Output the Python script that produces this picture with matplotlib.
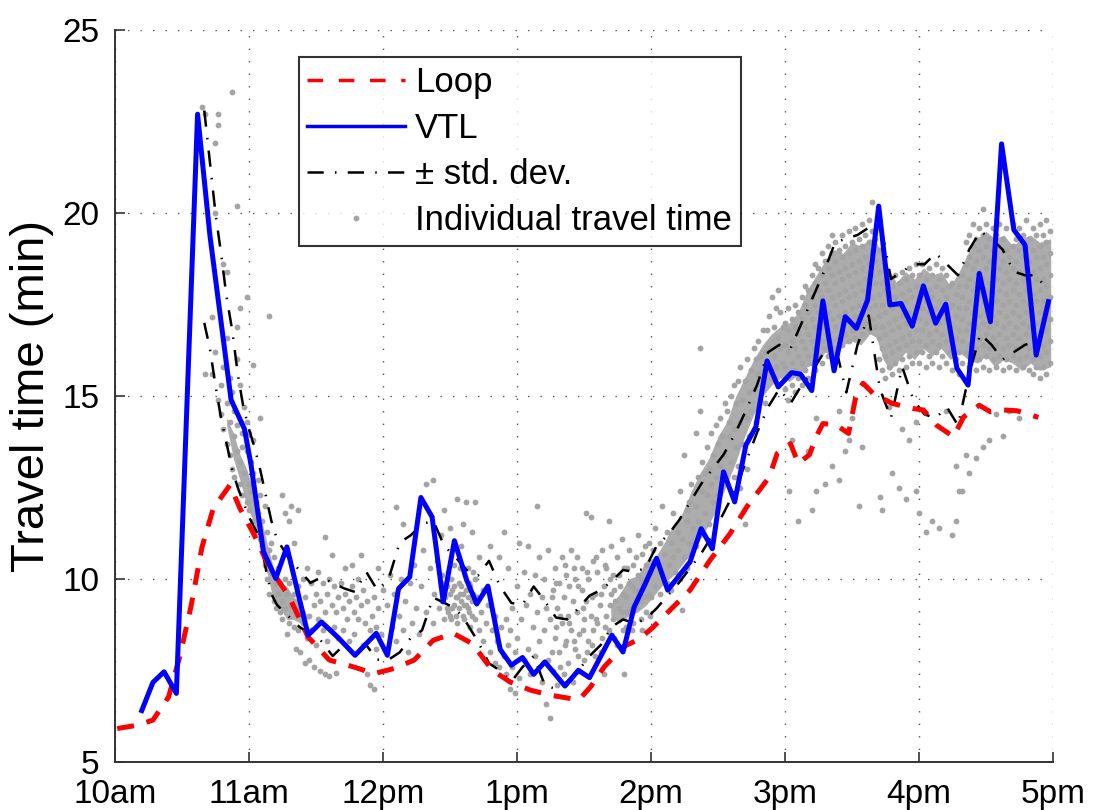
#!/usr/bin/env python3

# Travel time along the corridor: loop detectors vs. VTL estimate, 10am - 5pm

import numpy as np
import matplotlib.pyplot as plt
from matplotlib.lines import Line2D

plt.rcParams['font.family'] = ['Liberation Sans', 'DejaVu Sans']

# --- data (time in minutes after 10am, travel time in minutes) ---
loop_t = [1, 10, 17, 24, 29, 34, 39, 44, 51.5, 56, 62, 69, 78, 86.5, 96, 107, 116, 125,
          134, 142.5, 151.5, 160, 169, 177, 186, 195, 204, 208, 213, 219, 227.5, 235,
          241, 248.5, 257.5, 266.5, 275.5, 283, 293, 296.5, 302.5, 306, 311, 314, 317,
          323, 328.5, 332, 335, 339.5, 348, 357.5, 362, 368, 375.5, 380, 387, 392, 398,
          404, 409, 413.5]
loop_v = [5.92, 6.01, 6.15, 6.78, 7.88, 9.24, 10.88, 11.93, 12.57, 11.93, 11.25, 10.34,
          9.52, 8.42, 7.79, 7.60, 7.42, 7.56, 7.79, 8.33, 8.52, 8.24, 7.51, 7.19, 6.97,
          6.83, 6.74, 6.72, 7.06, 7.60, 8.15, 8.37, 8.69, 9.15, 9.70, 10.52, 11.25,
          11.98, 12.79, 13.43, 13.70, 13.16, 13.40, 13.89, 14.25, 14.21, 13.98, 15.07,
          15.35, 15.07, 14.80, 14.66, 14.62, 14.20, 13.89, 14.43, 14.75, 14.57, 14.62,
          14.60, 14.50, 14.42]

vtl_t = [12, 17, 22, 27.5, 37, 42.5, 52, 58, 61, 66.5, 72, 77, 86.5, 92.5, 100, 107.5,
         117, 122, 127, 132, 137, 142, 147, 152, 157.5, 162, 167, 172.5, 177.5, 182.5,
         187.5, 192.5, 201.5, 207.5, 212.5, 222.5, 227.5, 232.5, 237.5, 242.5, 247.5,
         257.5, 262.5, 267.5, 272.5, 277.5, 282.5, 287, 292, 297, 303, 307, 312, 317,
         322, 327, 332, 337, 342, 347, 352, 357, 362, 367.5, 372, 377, 382, 387, 392,
         397, 402.5, 407.5, 412.5, 418]
vtl_v = [6.41, 7.18, 7.47, 6.88, 22.7, 19.4, 14.9, 14.1, 13.1, 10.75, 10.02, 10.88, 8.47,
         8.83, 8.4, 7.92, 8.52, 7.92, 9.74, 10.06, 12.23, 11.70, 9.38, 11.05, 9.97, 9.32,
         9.81, 8.08, 7.65, 7.86, 7.40, 7.74, 7.08, 7.51, 7.31, 8.47, 8.01, 9.24, 9.88,
         10.57, 9.70, 10.47, 11.38, 10.83, 12.93, 12.11, 13.66, 14.16, 15.96, 15.25,
         15.64, 15.60, 15.15, 17.60, 15.69, 17.17, 16.85, 17.62, 20.19, 17.49, 17.53,
         16.91, 18.01, 16.99, 17.51, 15.76, 15.30, 18.35, 17.03, 21.89, 19.54, 19.13,
         16.12, 17.58]

std_t = [40, 42.5, 45, 47.5, 50, 52.5, 55, 57.5, 60, 62.5, 65, 67.5, 70, 72.5, 77.5,
         82.5, 87.5, 92.5, 97.5, 102.5, 107.5, 112.5, 117.5, 122.5, 127.5, 132.5, 137.5,
         142.5, 147.5, 152.5, 157.5, 162.5, 167.5, 172.5, 177.5, 182.5, 187.5, 192.5,
         197.5, 202.5, 207.5, 212.5, 217.5, 222.5, 227.5, 232.5, 237.5, 242.5, 247.5,
         252.5, 257.5, 262.5, 267.5, 272.5, 277.5, 282.5, 287.5, 292.5, 297.5, 302.5,
         307.5, 312.5, 317.5, 322.5, 327.5, 332.5, 337.5, 342.5, 347.5, 352.5, 357.5,
         362.5, 367.5, 372.5, 377.5, 382.5, 387.5, 392.5, 397.5, 402.5, 407.5, 412.5,
         417.5]
std_hi = [22.8, 21.4, 20.0, 18.9, 17.7, 16.8, 15.6, 14.7, 14.1, 13.6, 13.0, 12.3, 11.6,
          11.1, 10.6, 10.25, 9.9, 10.05, 9.9, 9.75, 9.65, 10.2, 9.7, 10.0, 11.0, 11.2,
          11.5, 11.6, 10.9, 10.6, 10.25, 10.1, 10.5, 9.8, 9.35, 9.3, 9.8, 9.4, 8.95, 8.9,
          9.2, 9.55, 9.7, 9.95, 10.25, 10.2, 10.3, 10.9, 11.2, 11.6, 12.1, 12.6, 13.0,
          13.4, 13.95, 14.6, 15.3, 16.2, 16.4, 16.3, 17.0, 17.7, 18.4, 19.2, 19.3, 19.4,
          19.6, 19.8, 18.2, 18.4, 18.6, 18.6, 18.9, 18.6, 18.3, 19.0, 19.5, 19.3, 19.0,
          18.4, 18.3, 18.3, 17.9]
std_lo = [17.0, 16.3, 15.3, 14.4, 13.7, 13.0, 12.5, 12.1, 11.7, 11.4, 11.1, 10.3, 9.6,
          9.3, 9.0, 8.7, 8.5, 8.3, 7.9, 8.2, 8.0, 8.2, 7.8, 7.8, 8.0, 8.4, 8.6, 9.5, 9.35,
          9.2, 8.8, 8.3, 7.7, 7.5, 7.2, 7.6, 7.9, 7.1, 7.0, 7.2, 7.5, 7.9, 8.2, 8.7, 8.9,
          8.8, 8.9, 9.2, 9.55, 9.9, 10.3, 10.7, 11.2, 11.8, 12.4, 13.2, 14.0, 14.7, 15.2,
          14.8, 15.3, 15.7, 16.2, 16.4, 15.1, 16.4, 17.2, 15.2, 14.4, 15.8, 14.9, 14.5,
          14.4, 14.7, 14.2, 15.6, 16.7, 16.4, 16.0, 16.2, 16.4, 16.5, 16.4]

# where the individual travel times pile up into a solid grey mass
core_11am_t = [50, 53, 56, 59, 62, 65, 68, 71, 74, 77, 80, 83, 86]
core_11am_lo = [14.2, 13.3, 12.7, 12.0, 11.6, 10.9, 10.2, 9.4, 9.2, 8.9, 8.9, 8.8, 8.9]
core_11am_hi = [14.4, 14.0, 13.4, 13.0, 12.4, 11.8, 11.0, 10.3, 9.9, 9.8, 9.5, 9.4, 9.0]
core_pm_t = [222, 226, 230, 234, 238, 242, 246, 250, 254, 258, 262, 266, 270, 274, 278,
             282, 286, 290, 294, 298, 302, 306, 310, 314, 318, 322, 326, 330, 334, 338,
             341, 344, 347, 350, 354, 358, 362, 366, 370, 374, 378, 382, 386, 390, 394,
             398, 402, 406, 410, 414, 419]
core_pm_lo = [9.0, 8.8, 9.0, 9.1, 9.3, 9.6, 9.9, 10.1, 10.4, 10.7, 11.1, 11.5, 12.0, 12.6,
              13.2, 13.9, 14.5, 15.0, 15.3, 15.5, 15.4, 15.6, 15.8, 15.9, 16.2, 16.1, 16.4,
              16.5, 16.4, 16.7, 16.6, 16.0, 15.7, 15.9, 16.2, 16.0, 16.3, 16.1, 16.3, 16.0,
              16.2, 16.0, 15.9, 16.1, 15.8, 16.0, 15.9, 15.7, 15.9, 15.7, 15.8]
core_pm_hi = [9.3, 9.6, 10.0, 10.1, 10.5, 10.6, 11.0, 11.5, 11.8, 12.4, 12.9, 13.3, 13.9,
              14.3, 15.0, 15.5, 16.0, 16.4, 16.7, 16.9, 17.0, 17.3, 17.9, 18.3, 18.7, 19.0,
              18.9, 19.2, 19.1, 19.3, 19.2, 18.8, 18.4, 18.1, 18.4, 18.2, 18.5, 18.3, 18.4,
              18.0, 18.4, 18.9, 19.3, 19.5, 19.3, 19.4, 19.1, 19.3, 19.4, 19.2, 19.3]

# individual travel times, read per departure minute
dots_10am = [(39, [22.9]), (40.5, [22.7, 15.6]), (43.5, [17.15, 15.6]),
             (45, [21.9, 20.0, 16.2]), (46, [22.7, 22.4, 14.9]), (47.5, [15.3, 14.5]),
             (48.5, [18.6, 15.8, 14.1]), (50, [18.4, 16.6, 13.7, 14.8]),
             (51.5, [15.5, 13.4, 14.3]), (52.3, [23.3, 15.1, 13.0]),
             (53.5, [13.9, 14.6, 12.8]), (54.5, [20.2, 16.9, 16.0, 13.5, 14.2]),
             (56, [17.4, 12.6, 15.3, 13.2]), (57, [14.0, 12.3, 13.6]), (58, [14.7, 12.9]),
             (59, [17.7, 12.1, 13.5, 14.3])]
dots_11am = [(60, [12.6, 14.0, 11.9]), (61, [13.2, 12.4]), (62, [15.85, 11.6, 13.8, 12.9]),
             (63, [12.1, 11.3]), (64, [12.7, 11.8]), (65, [14.4, 11.1, 12.3]),
             (66, [11.6, 10.9]), (67, [12.0, 10.4]), (68, [11.3, 10.0]),
             (69, [17.2, 10.8, 9.6]), (70, [11.0, 10.2]), (71, [9.4, 10.6]),
             (72, [9.9, 9.2]), (73, [10.3, 9.6]), (74, [9.1, 9.9]), (75, [12.3, 9.4, 8.9]),
             (76, [11.8, 10.0, 9.2]), (77, [9.6, 8.5]), (78, [11.6, 8.8, 9.9]),
             (79, [12.0, 9.3]), (80, [11.0, 8.7, 9.6]), (81, [9.1, 8.1]),
             (82, [11.9, 8.6, 9.8]), (83, [9.2, 8.0]), (84, [8.8, 10.0]), (85, [9.5, 7.7]),
             (86, [10.3, 8.4]), (87, [9.0, 7.8]), (88, [8.6, 9.9]), (89, [9.3, 7.6]),
             (90, [9.6, 8.2]), (91, [8.9, 10.2]), (92, [9.4, 7.5]), (93, [9.9, 8.6]),
             (94, [11.15, 9.1, 7.4]), (95, [9.6, 8.3]), (96, [7.35, 10.0]),
             (97, [10.65, 9.3]), (98, [9.8, 8.7]), (99, [7.45, 9.1]), (100, [9.5, 8.4]),
             (101, [9.9]), (102, [9.2, 8.6]), (103, [9.6, 10.3]), (104, [8.9]),
             (105, [9.4, 8.3]), (106, [9.8, 10.4]), (107, [9.1, 8.5]), (108, [9.5]),
             (109, [8.9, 10.0]), (110, [9.3, 10.65]), (111, [9.7, 8.2]), (112, [8.8]),
             (113, [7.4, 9.4]), (114, [7.1, 8.6]), (115, [9.0]), (116, [7.0, 9.5]),
             (117, [8.7, 8.1]), (118, [10.3, 9.2]), (119, [8.5])]
dots_12pm = [(120, [9.7]), (121, [8.1]), (122, [9.3]), (123, [10.1]), (124, [8.7]),
             (125, [9.6]), (126, [11.96, 8.3]), (127, [9.0]), (128, [10.0]),
             (129, [11.5, 8.6]), (130, [9.4]), (131, [8.0]), (132, [9.9]), (133, [8.8]),
             (134, [10.4]), (135, [9.2]), (136, [8.5]), (137, [9.8]), (138, [10.8]),
             (139.5, [12.6, 9.1]), (141, [10.3]), (142.5, [12.7, 8.8]), (143, [9.6]),
             (144, [10.5]), (145, [9.2]), (146, [11.2, 9.9]), (146.5, [9.4, 10.1]),
             (147.5, [11.9, 8.9]), (148, [9.5]), (148.5, [9.2, 9.8]), (149, [10.2, 9.1]),
             (150, [9.0, 11.4, 9.6]), (150.5, [8.9, 10.0]), (151, [9.7, 9.2]),
             (152, [10.4, 9.3, 9.8]), (152.5, [9.5, 9.0]), (153, [12.2, 8.8, 9.5]),
             (154, [9.9, 9.2]), (154.5, [9.6, 10.3]), (155, [9.4, 10.9, 9.8]),
             (156, [9.0, 11.5, 9.6]), (156.5, [9.3, 8.9]), (157, [12.1, 9.7, 9.3]),
             (158, [9.2, 10.3, 9.5]), (158.5, [9.9, 9.1]), (159, [8.7, 9.8]),
             (160, [9.4, 11.3, 9.0]), (160.5, [9.6, 10.2]),
             (161, [12.1, 8.9, 10.0]), (162, [9.5]), (163, [8.6, 10.6]), (164, [9.1]),
             (165, [8.3, 9.7]), (166, [8.8]), (167, [9.3]), (168, [8.0, 10.9]),
             (169, [8.6]), (170, [9.0, 7.7]), (171, [8.3]), (172, [10.6, 7.6]),
             (173, [8.7]), (174, [11.3, 7.9]), (175, [7.4, 8.9]), (176, [10.3, 8.2]),
             (177, [7.0, 8.6]), (178, [7.6, 9.2]), (179, [8.0, 6.9])]
dots_1pm = [(180, [8.4, 9.8]), (181, [7.3, 11.0]), (182, [8.9]), (183, [7.8, 10.2]),
            (184, [9.3]), (185, [8.1, 10.9]), (186, [7.4, 9.6]), (187, [8.7]),
            (188, [10.1, 7.9]), (189, [12.0, 9.1]), (190, [8.3, 10.6]), (191, [7.2, 9.5]),
            (192, [8.6, 10.0]), (193, [6.6, 9.2]), (194, [7.8, 10.8]), (195, [6.2, 8.9]),
            (195.5, [8.0, 9.5]), (196, [9.7, 7.5]), (197, [10.3, 8.4]), (197.5, [8.7, 9.9]),
            (198, [9.2, 7.1]), (199, [9.9, 8.0]), (199.5, [7.6, 9.0]),
            (200, [10.6, 8.8]), (201, [7.4, 9.5]), (201.5, [8.2, 10.4]), (202, [8.3, 10.1]),
            (203, [9.0, 7.7]), (203.5, [8.8, 9.8]), (204, [10.8, 8.6]), (205, [9.4, 7.2]),
            (205.5, [8.3, 10.3]), (206, [10.0, 8.1]), (207, [10.6, 9.1]), (207.5, [7.9, 9.8]),
            (208, [8.5, 7.5]), (209, [9.7, 10.3]), (209.5, [8.6, 9.2]), (210, [8.9, 7.8]),
            (211, [11.8, 9.4]), (211.5, [8.0, 10.2]), (212, [8.3, 10.0]), (213, [9.0, 11.7]),
            (213.5, [9.5, 8.2]), (214, [8.6, 10.5]), (215, [9.6, 7.9]), (215.5, [8.9, 10.6]),
            (216, [10.2, 8.8]), (217, [9.3]), (217.5, [8.0, 9.6]), (218, [10.8, 8.4]),
            (219, [9.8, 7.4]), (219.5, [8.7, 10.4]), (220, [10.3, 9.0]), (221, [11.6, 8.6]),
            (221.5, [9.3, 10.0]), (222, [9.6, 10.9]), (223, [8.9, 10.1]), (223.5, [8.4, 9.7]),
            (224, [9.4]), (225, [10.6, 8.2]), (225.5, [9.2, 10.1]), (226, [9.8]),
            (227, [9.1, 11.1]), (227.5, [8.6, 9.6]), (228, [10.3, 7.4]), (229, [9.5, 8.7]),
            (229.5, [9.1, 10.3]), (230, [10.8, 9.9]), (231, [9.2]), (231.5, [9.8, 8.6]),
            (232, [10.4, 8.8]), (233, [9.7]), (233.5, [9.2, 10.6]), (234, [11.2, 10.1]),
            (235, [9.4]), (235.5, [8.9, 10.0]), (236, [10.7, 8.6]), (237, [9.9]),
            (237.5, [9.5, 10.9]), (238, [10.4, 9.1]), (239, [11.0, 9.6]), (239.5, [10.2, 9.0])]
dots_2pm = [(240, [10.2, 9.5]), (241, [10.8]), (242, [9.8, 11.4]), (243, [10.4]),
            (244, [9.6, 11.0]), (245, [10.1, 12.0]), (246, [10.7]), (247, [9.9, 11.3]),
            (248, [10.4]), (249, [11.0, 9.7]), (250, [10.6, 11.8]), (251, [10.2]),
            (252, [11.3, 10.8]), (253, [12.4, 10.0]), (254, [9.15, 11.1]),
            (255, [10.6, 13.4]), (256, [11.6, 10.3, 11.9]), (257, [12.1, 11.0]),
            (258, [10.7, 12.6]), (259, [11.4]), (260, [14.0, 10.9, 12.0]),
            (261, [11.6, 12.8]), (262, [16.3, 14.6, 11.2]), (263, [12.4, 13.2]),
            (264, [11.8, 12.9]), (265, [12.3, 13.6]), (266, [11.5, 13.0]),
            (267, [12.6, 14.0]), (268, [12.1, 13.4]), (269, [14.2, 12.8]),
            (270, [13.7, 12.3]), (271, [13.1, 14.4]), (272, [12.8, 13.9]),
            (273, [13.4, 14.8]), (274, [14.6, 12.6]), (275, [13.9, 14.3]),
            (276, [13.2, 15.0]), (277, [15.3, 14.1, 12.8]), (278, [13.6, 14.8]),
            (279, [15.4, 13.1]), (280, [14.3, 15.8, 12.5]), (281, [14.9, 13.7]),
            (282, [11.5, 15.4]), (283, [14.4, 16.0, 13.0]), (284, [15.1, 13.9]),
            (285, [15.7, 14.6]), (286, [16.3, 15.2]), (287, [14.3, 16.0]),
            (288, [15.6, 16.5]), (289, [14.9, 16.1]), (290, [15.4, 16.8]),
            (291, [16.2, 14.8]), (292, [16.8, 15.7]), (293, [17.2, 16.3]),
            (294, [17.7, 15.5]), (295, [16.9, 16.1]), (296, [17.4, 15.8]),
            (297, [16.6, 17.9]), (298, [16.3, 17.3]), (299, [15.9, 16.9])]
dots_3pm = [(300, [15.2, 15.8, 16.4, 17.0]), (301.5, [14.9, 15.6, 16.2, 16.8, 17.4]),
            (302, [12.4]), (303, [15.3, 15.9, 16.5, 17.1, 13.8]),
            (304.5, [15.1, 15.7, 16.3, 16.9, 17.5]), (306, [15.5, 16.1, 16.7, 17.3, 11.6]),
            (307.5, [15.3, 15.9, 16.5, 17.1, 17.7]), (309, [15.7, 16.3, 16.9, 17.5, 18.0]),
            (310.5, [15.5, 16.1, 16.7, 17.3, 17.9, 13.5]), (312, [15.9, 16.5, 17.1, 17.7, 18.3, 11.9]),
            (313.5, [15.7, 16.3, 16.9, 17.5, 18.1, 18.6]), (314, [14.4, 12.4]),
            (315, [16.1, 16.7, 17.3, 17.9, 18.5]), (316.5, [15.9, 16.5, 17.1, 17.7, 18.3, 18.9]),
            (318, [16.3, 16.9, 17.5, 18.1, 18.7, 12.6]), (319.5, [16.1, 16.7, 17.3, 17.9, 18.5, 19.1]),
            (321, [16.5, 17.1, 17.7, 18.3, 18.9, 19.4, 13.1]),
            (322.5, [16.3, 16.9, 17.5, 18.1, 18.7, 19.2]),
            (324, [16.6, 17.2, 17.8, 18.4, 19.0, 12.7, 14.6]),
            (325.5, [16.4, 17.0, 17.6, 18.2, 18.8, 19.4]),
            (327, [16.7, 17.3, 17.9, 18.5, 19.1, 13.5]),
            (328.5, [16.5, 17.1, 17.7, 18.3, 18.9, 19.5, 13.8]),
            (330, [16.8, 17.4, 18.0, 18.6, 19.2, 14.4]),
            (331.5, [16.6, 17.2, 17.8, 18.4, 19.0, 19.6]), (333, [16.9, 17.5, 18.1, 18.7, 19.3, 12.0]),
            (334.5, [16.7, 17.3, 17.9, 18.5, 19.1, 19.7, 13.6]),
            (336, [17.0, 17.6, 18.2, 18.8, 19.4]), (337.5, [16.8, 17.4, 18.0, 18.6, 19.2, 19.8]),
            (339, [17.1, 17.7, 18.3, 18.9, 19.5, 20.3]),
            (340.5, [16.9, 17.5, 18.1, 18.7, 19.3]), (342.5, [12.25]),
            (342, [16.0, 16.6, 17.2, 17.8, 18.4, 19.0]),
            (343.5, [15.7, 16.3, 16.9, 17.5, 18.1, 11.9]),
            (345, [15.5, 16.1, 16.7, 17.3, 17.9, 18.5]),
            (346.5, [15.8, 16.4, 17.0, 17.6, 18.2, 14.7]),
            (348, [15.6, 16.2, 16.8, 17.4, 18.0, 12.9]),
            (349.5, [15.9, 16.5, 17.1, 17.7, 18.3]),
            (351, [15.7, 16.3, 16.9, 17.5, 18.1, 12.5]),
            (352.5, [16.0, 16.6, 17.2, 17.8, 18.4, 14.1]),
            (354, [15.8, 16.4, 17.0, 17.6, 18.2, 12.2]),
            (355.5, [16.1, 16.7, 17.3, 17.9, 18.5, 13.8]),
            (357, [15.9, 16.5, 17.1, 17.7, 18.3]),
            (358.5, [16.2, 16.8, 17.4, 18.0, 18.6, 14.3, 12.4])]
dots_4pm = [(360, [15.9, 16.5, 17.1, 17.7, 18.3, 11.8]), (361.5, [16.2, 16.8, 17.4, 18.0, 18.6]),
            (363, [15.8, 16.4, 17.0, 17.6, 18.2, 11.3]), (364.5, [16.1, 16.7, 17.3, 17.9, 18.5]),
            (366, [15.9, 16.5, 17.1, 17.7, 18.3, 11.6]), (367.5, [16.2, 16.8, 17.4, 18.0, 18.6]),
            (369, [15.8, 16.4, 17.0, 17.6, 18.2, 11.4]), (370.5, [16.1, 16.7, 17.3, 17.9, 18.5]),
            (372, [15.9, 16.5, 17.1, 17.7, 18.3, 14.6]), (373.5, [16.2, 16.8, 17.4, 18.0]),
            (375, [15.7, 16.3, 16.9, 17.5, 18.1, 11.2]), (376.5, [16.0, 16.6, 17.2, 17.8, 13.1, 11.6]),
            (378, [15.6, 16.2, 16.8, 17.4, 18.0, 12.4]), (379.5, [15.9, 16.5, 17.1, 17.7, 18.3, 12.4]),
            (381, [16.2, 16.8, 17.4, 18.0, 18.6, 19.2, 13.4]),
            (382.5, [15.8, 16.4, 17.0, 17.6, 18.2, 18.8, 19.4, 12.9]),
            (384, [16.1, 16.7, 17.3, 17.9, 18.5, 19.1, 19.7]),
            (385.5, [15.7, 16.3, 16.9, 17.5, 18.1, 18.7, 19.3, 13.3]),
            (387, [16.0, 16.6, 17.2, 17.8, 18.4, 19.0, 19.6]),
            (388.5, [15.8, 16.4, 17.0, 17.6, 18.2, 18.8, 19.4, 20.1, 13.6]),
            (390, [16.1, 16.7, 17.3, 17.9, 18.5, 19.1, 19.7]),
            (391.5, [15.7, 16.3, 16.9, 17.5, 18.1, 18.7, 19.3, 13.8]),
            (393, [16.0, 16.6, 17.2, 17.8, 18.4, 19.0, 19.6]),
            (394.5, [15.8, 16.4, 17.0, 17.6, 18.2, 18.8, 19.4, 14.5]),
            (396, [16.1, 16.7, 17.3, 17.9, 18.5, 19.1, 19.7]),
            (397.5, [15.7, 16.3, 16.9, 17.5, 18.1, 18.7, 19.3, 13.9]),
            (399, [16.0, 16.6, 17.2, 17.8, 18.4, 19.0, 19.6]),
            (400.5, [15.8, 16.4, 17.0, 17.6, 18.2, 18.8, 14.6]),
            (402, [16.1, 16.7, 17.3, 17.9, 18.5, 19.1, 19.7]),
            (403.5, [15.7, 16.3, 16.9, 17.5, 18.1, 18.7, 19.3]),
            (405, [16.0, 16.6, 17.2, 17.8, 18.4, 19.0, 19.6, 14.4]),
            (406.5, [15.8, 16.4, 17.0, 17.6, 18.2, 18.8, 19.4]),
            (408, [16.1, 16.7, 17.3, 17.9, 18.5, 19.1, 19.8]),
            (409.5, [15.7, 16.3, 16.9, 17.5, 18.1, 18.7, 19.3]),
            (411, [15.6, 16.0, 16.6, 17.2, 17.8, 18.4, 19.0, 19.6]),
            (412.5, [15.8, 16.4, 17.0, 17.6, 18.2, 18.8, 19.4]),
            (414, [15.5, 16.1, 16.7, 17.3, 17.9, 18.5, 19.1, 19.7]),
            (415.5, [15.8, 16.4, 17.0, 17.6, 18.2, 18.8, 19.4]),
            (417, [15.6, 16.2, 16.8, 17.4, 18.0, 18.6, 19.2, 19.8]),
            (418.5, [15.9, 16.5, 17.1, 17.7, 18.3, 18.9, 19.5])]

hour_ticks = [10, 11, 12, 13, 14, 15, 16, 17]
hour_labels = ['10am', '11am', '12pm', '1pm', '2pm', '3pm', '4pm', '5pm']

dot_color = '#a4a4a4'
core_color = '#acacac'
std_style = (0, (6.5, 4.5, 0.6, 4.5))


def to_hours(minutes):
    return 10 + np.asarray(minutes, dtype=float) / 60.0


dot_t = []
dot_v = []
for group in [dots_10am, dots_11am, dots_12pm, dots_1pm, dots_2pm, dots_3pm, dots_4pm]:
    for minute, values in group:
        for v in values:
            dot_t.append(minute)
            dot_v.append(v)

fig = plt.figure(figsize=(11, 8.1), dpi=100)
ax = fig.add_axes([0.1045, 0.059, 0.8527, 0.904])

for ct, clo, chi in [(core_11am_t, core_11am_lo, core_11am_hi),
                     (core_pm_t, core_pm_lo, core_pm_hi)]:
    ax.fill_between(to_hours(ct), clo, chi, color=core_color, linewidth=0, zorder=2)
ax.plot(to_hours(dot_t), dot_v, linestyle='none', marker='o', markersize=4.2,
        markerfacecolor=dot_color, markeredgecolor='none', zorder=2)
ax.plot(to_hours(std_t), std_hi, color='k', lw=1.8, linestyle=std_style, zorder=3)
ax.plot(to_hours(std_t), std_lo, color='k', lw=1.8, linestyle=std_style, zorder=3)
ax.plot(to_hours(loop_t), loop_v, color='#ff0000', lw=3.6, linestyle=(0, (3.4, 2.6)), zorder=4)
ax.plot(to_hours(vtl_t), vtl_v, color='#0000ff', lw=3.6, zorder=5)

ax.set_xlim(10, 17)
ax.set_ylim(5, 25)
ax.set_xticks(hour_ticks)
ax.set_xticklabels(hour_labels)
ax.set_yticks([5, 10, 15, 20, 25])
ax.tick_params(direction='in', length=7, width=1.2, labelsize=24, color='#333333',
               top=False, right=False)
ax.tick_params(axis='x', pad=12)
ax.tick_params(axis='y', pad=11)
ax.grid(True, color='#555555', linestyle=(0, (1, 8)), linewidth=1.0)
ax.set_axisbelow(True)
ax.spines['top'].set_visible(False)
ax.spines['right'].set_visible(False)
for side in ['left', 'bottom']:
    ax.spines[side].set_linewidth(1.4)
    ax.spines[side].set_color('#333333')
ax.set_ylabel('Travel time (min)', fontsize=34, labelpad=6)

handles = [
    Line2D([], [], color='#ff0000', lw=2.5, linestyle=(0, (4.5, 4.5))),
    Line2D([], [], color='#0000ff', lw=2.5),
    Line2D([], [], color='k', lw=1.8, linestyle=std_style),
    Line2D([], [], linestyle='none', marker='o', markersize=4.2,
           markerfacecolor=dot_color, markeredgecolor='none'),
]
labels = ['Loop', 'VTL', '\u00b1 std. dev.', 'Individual travel time']
leg = ax.legend(handles, labels, loc='upper left', bbox_to_anchor=(0.196, 0.963),
                fontsize=25, frameon=True, fancybox=False, handlelength=2.8,
                handletextpad=0.3, borderpad=0.25, labelspacing=0.38, borderaxespad=0)
leg.get_frame().set_edgecolor('k')
leg.get_frame().set_linewidth(1.5)

plt.savefig('out.png', dpi=100)
